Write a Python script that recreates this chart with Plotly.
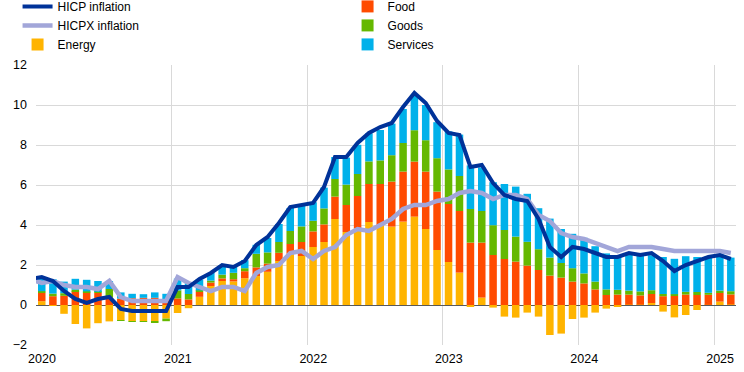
import plotly.graph_objects as go
import pandas as pd

# Monthly observations (bars: Jan 2020 - Feb 2025; lines also include Dec 2019, clipped at the axis)
months = pd.date_range("2020-01-01", "2025-02-01", freq="MS").strftime("%Y-%m-%d").tolist()
line_months = ["2019-12-01"] + months

year_ticks = ["2020-01-01", "2021-01-01", "2022-01-01", "2023-01-01", "2024-01-01", "2025-01-01"]
year_labels = ["2020", "2021", "2022", "2023", "2024", "2025"]

hicp = [1.3,
        1.4, 1.2, 0.7, 0.3, 0.1, 0.3, 0.4, -0.2, -0.3, -0.3, -0.3, -0.3,
        0.9, 0.9, 1.3, 1.6, 2.0, 1.9, 2.2, 3.0, 3.4, 4.1, 4.9, 5.0,
        5.1, 5.9, 7.4, 7.4, 8.1, 8.6, 8.9, 9.1, 9.9, 10.6, 10.1, 9.2,
        8.6, 8.5, 6.9, 7.0, 6.1, 5.5, 5.3, 5.2, 4.3, 2.9, 2.4, 2.9,
        2.8, 2.6, 2.4, 2.4, 2.6, 2.5, 2.6, 2.2, 1.7, 2.0, 2.2, 2.4,
        2.5, 2.3]

hicpx = [1.3,
         1.1, 1.2, 1.0, 0.9, 0.9, 0.8, 1.2, 0.4, 0.2, 0.2, 0.2, 0.2,
         1.4, 1.1, 0.9, 0.7, 0.9, 0.9, 0.7, 1.6, 1.9, 2.0, 2.6, 2.7,
         2.3, 2.7, 2.9, 3.5, 3.8, 3.7, 4.0, 4.3, 4.8, 5.0, 5.0, 5.2,
         5.3, 5.6, 5.7, 5.6, 5.3, 5.5, 5.5, 5.3, 4.5, 4.2, 3.6, 3.4,
         3.3, 3.1, 2.9, 2.7, 2.9, 2.9, 2.9, 2.8, 2.7, 2.7, 2.7, 2.7,
         2.7, 2.6]

energy = [0.19, -0.03, -0.44, -0.95, -1.17, -0.91, -0.82, -0.76, -0.80, -0.80, -0.81, -0.68,
          -0.40, -0.16, 0.41, 0.95, 1.20, 1.18, 1.34, 1.45, 1.66, 2.20, 2.57, 2.45,
          2.90, 3.15, 4.30, 3.65, 3.85, 4.15, 3.98, 3.92, 4.17, 4.42, 3.80, 2.75,
          2.15, 1.62, -0.08, 0.37, -0.13, -0.58, -0.63, -0.38, -0.58, -1.50, -1.43, -0.70,
          -0.63, -0.38, -0.18, -0.08, 0.02, 0.02, 0.10, -0.33, -0.62, -0.50, -0.25, 0.01,
          0.17, 0.03]

food = [0.42, 0.44, 0.46, 0.69, 0.63, 0.61, 0.38, 0.32, 0.34, 0.36, 0.36, 0.25,
        0.33, 0.28, 0.24, 0.17, 0.13, 0.11, 0.35, 0.43, 0.41, 0.41, 0.48, 0.70,
        0.78, 0.88, 1.12, 1.35, 1.60, 1.90, 2.07, 2.25, 2.50, 2.75, 2.87, 2.92,
        2.90, 3.08, 3.12, 2.75, 2.50, 2.30, 2.17, 1.97, 1.75, 1.47, 1.37, 1.17,
        1.08, 0.78, 0.50, 0.52, 0.50, 0.46, 0.45, 0.44, 0.45, 0.52, 0.50, 0.50,
        0.43, 0.50]

goods = [0.08, 0.13, 0.13, 0.08, 0.05, 0.05, 0.42, -0.03, -0.03, -0.03, -0.08, -0.13,
         0.40, 0.27, 0.08, 0.10, 0.19, 0.32, 0.15, 0.68, 0.56, 0.54, 0.65, 0.78,
         0.53, 0.80, 0.88, 1.02, 1.10, 1.13, 1.18, 1.32, 1.43, 1.57, 1.57, 1.67,
         1.73, 1.75, 1.68, 1.58, 1.49, 1.45, 1.25, 1.19, 1.04, 0.90, 0.73, 0.67,
         0.50, 0.39, 0.28, 0.24, 0.20, 0.20, 0.19, 0.11, 0.09, 0.14, 0.15, 0.10,
         0.12, 0.16]

services = [0.67, 0.72, 0.58, 0.54, 0.58, 0.54, 0.40, 0.31, 0.22, 0.18, 0.27, 0.31,
            0.59, 0.54, 0.54, 0.38, 0.46, 0.29, 0.40, 0.45, 0.72, 0.90, 1.15, 1.05,
            0.93, 1.04, 1.10, 1.35, 1.46, 1.40, 1.52, 1.58, 1.70, 1.77, 1.76, 1.80,
            1.90, 2.07, 2.18, 2.18, 2.15, 2.30, 2.50, 2.40, 2.05, 1.95, 1.70, 1.72,
            1.78, 1.77, 1.80, 1.68, 1.85, 1.82, 1.75, 1.85, 1.77, 1.78, 1.75, 1.82,
            1.80, 1.68]

FONT = "Arial, 'Liberation Sans', sans-serif"
BAR_WIDTH_MS = 1.75e9

fig = go.Figure()

bar_series = [
    ("Energy", energy, "#FFB400", 5),
    ("Food", food, "#FF4B00", 2),
    ("Goods", goods, "#65B800", 4),
    ("Services", services, "#00B1EA", 6),
]
for name, vals, color, rank in bar_series:
    fig.add_trace(go.Bar(
        x=months, y=vals, name=name, marker_color=color, marker_line_width=0,
        xperiod="M1", xperiodalignment="middle", width=BAR_WIDTH_MS,
        legendrank=rank,
    ))

fig.add_trace(go.Scatter(
    x=line_months, y=hicpx, name="HICPX inflation", mode="lines",
    line=dict(color="#A2A6D9", width=4.5),
    xperiod="M1", xperiodalignment="middle", legendrank=3,
))
fig.add_trace(go.Scatter(
    x=line_months, y=hicp, name="HICP inflation", mode="lines",
    line=dict(color="#003299", width=4),
    xperiod="M1", xperiodalignment="middle", legendrank=1,
))

fig.update_layout(
    width=744, height=372,
    margin=dict(l=36, r=8, t=65, b=27, autoexpand=False),
    paper_bgcolor="white", plot_bgcolor="white",
    barmode="relative",
    font=dict(family=FONT, size=12, color="#000000"),
    showlegend=True,
    legend=dict(
        orientation="h", xref="container", yref="paper",
        x=0.0236, y=1.261, xanchor="left", yanchor="top",
        entrywidth=285, entrywidthmode="pixels",
        font=dict(family=FONT, size=12, color="#000000"),
        bgcolor="rgba(0,0,0,0)", traceorder="normal",
    ),
    xaxis=dict(
        type="date", range=["2020-01-01", "2025-03-01"],
        tickmode="array", tickvals=year_ticks, ticktext=year_labels,
        showgrid=True, gridcolor="#D9D9D9", gridwidth=1,
        ticks="", showline=False, zeroline=False,
        ticklabelshift=6, ticklabelstandoff=4,
        tickfont=dict(family=FONT, size=12.5, color="#000000"),
    ),
    yaxis=dict(
        range=[-2, 12], tickmode="linear", tick0=0, dtick=2,
        showgrid=True, gridcolor="#D9D9D9", gridwidth=1,
        zeroline=True, zerolinecolor="#595959", zerolinewidth=1,
        ticks="", showline=False, ticklabelstandoff=8,
        tickfont=dict(family=FONT, size=12.5, color="#000000"),
    ),
)

fig.write_html("out.html", config={"displayModeBar": False},
               post_script="document.body.style.margin='0';")
